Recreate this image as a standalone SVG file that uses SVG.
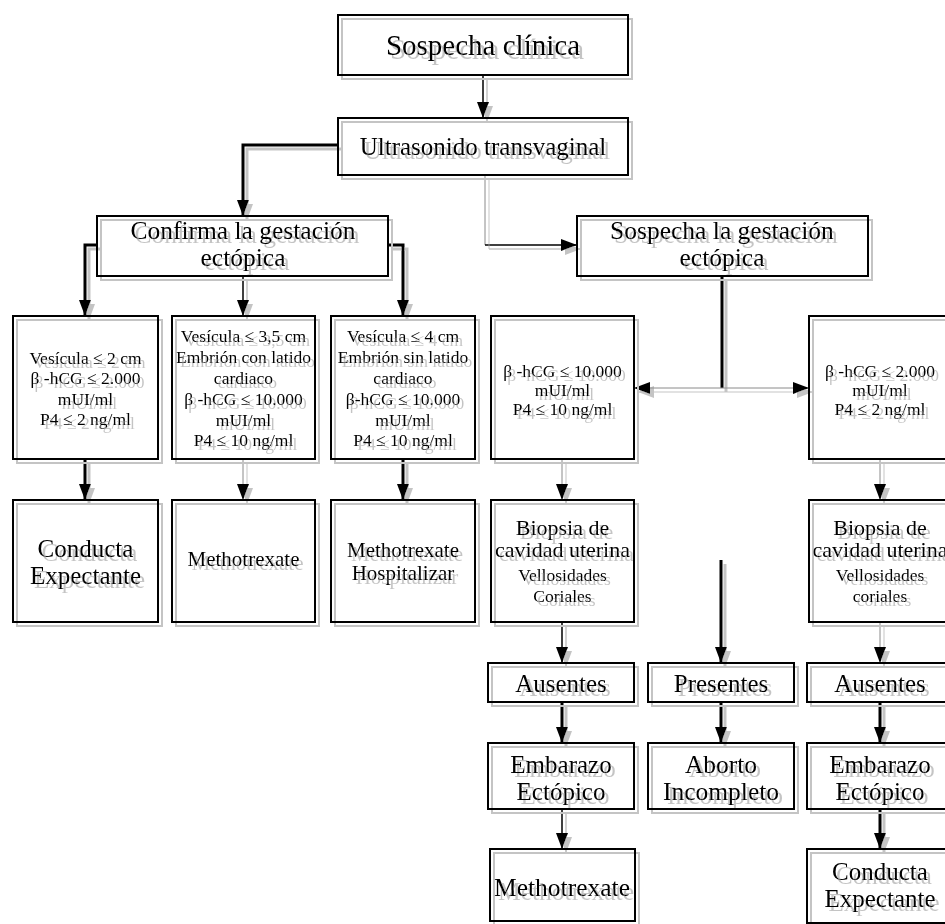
<svg xmlns="http://www.w3.org/2000/svg" width="945" height="924" viewBox="0 0 945 924">
<defs>
<filter id="sh" filterUnits="userSpaceOnUse" x="-20" y="-20" width="1000" height="980">
<feOffset in="SourceAlpha" dx="4" dy="4" result="o"/>
<feFlood flood-color="#c4c4c4"/>
<feComposite in2="o" operator="in" result="s"/>
<feMerge><feMergeNode in="s"/><feMergeNode in="SourceGraphic"/></feMerge>
</filter>
<marker id="ah" markerUnits="userSpaceOnUse" markerWidth="16" markerHeight="12" refX="16" refY="6" orient="auto">
<path d="M0,0 L16,6 L0,12 z" fill="#000"/>
</marker>
<style>
.box{fill:none;stroke:#000;stroke-width:2}
text{font-family:"Liberation Serif","Times New Roman",serif;fill:#000;text-anchor:middle}
.f29{font-size:29px}.f25{font-size:25px}.f26{font-size:25.5px}.f21{font-size:21px}.f22{font-size:22px}.f18{font-size:17.5px}
.ck{fill:none;stroke:#000;stroke-width:3}
.cm{fill:none;stroke:#000;stroke-width:1.5}
.cl{fill:none;stroke:#8a8a8a;stroke-width:1}
.arr{marker-end:url(#ah)}
</style>
</defs>
<rect width="945" height="924" fill="#fff"/>

<g id="connectors" filter="url(#sh)">
<path class="cm arr" d="M483,75 V118"/>
<path class="ck arr" d="M338,145 H243 V216"/>
<path class="cl" d="M485,175 V245"/>
<path class="cm arr" d="M485,245 H577"/>
<path class="ck arr" d="M97,245 H85 V316"/>
<path class="cm arr" d="M243,276 V316"/>
<path class="ck arr" d="M388,245 H403 V316"/>
<path class="ck" d="M722,276 V388"/>
<path class="cl arr" d="M722,388 H634"/>
<path class="cl arr" d="M722,388 H809"/>
<path class="ck arr" d="M85,459 V500"/>
<path class="cl arr" d="M243,459 V500"/>
<path class="ck arr" d="M403,459 V500"/>
<path class="cl arr" d="M562,459 V500"/>
<path class="cl arr" d="M880,459 V500"/>
<path class="cm arr" d="M562,622 V663"/>
<path class="ck arr" d="M721,560 V663"/>
<path class="cl arr" d="M880,622 V663"/>
<path class="ck arr" d="M562,702 V743"/>
<path class="ck arr" d="M721,702 V743"/>
<path class="ck arr" d="M880,702 V743"/>
<path class="cm arr" d="M562,809 V849"/>
<path class="ck arr" d="M880,809 V849"/>
</g>

<g id="n-sospecha-clinica" filter="url(#sh)">
<rect class="box" x="338" y="15" width="290" height="60"/>
<text class="f29" x="483" y="55">Sospecha clínica</text>
</g>
<g id="n-ultrasonido" filter="url(#sh)">
<rect class="box" x="338" y="118" width="290" height="57"/>
<text class="f25" x="483" y="155">Ultrasonido transvaginal</text>
</g>
<g id="n-confirma" filter="url(#sh)">
<rect class="box" x="97" y="216" width="291" height="60"/>
<text class="f26" x="243" y="239">Confirma la gestación</text>
<text class="f26" x="243" y="266">ectópica</text>
</g>
<g id="n-sospecha-gestacion" filter="url(#sh)">
<rect class="box" x="577" y="216" width="291" height="60"/>
<text class="f26" x="722" y="239">Sospecha la gestación</text>
<text class="f26" x="722" y="266">ectópica</text>
</g>

<g id="n-criterios-1" filter="url(#sh)">
<rect class="box" x="13" y="316" width="145" height="143"/>
<text class="f18" x="85.5" y="364">Vesícula ≤ 2 cm</text>
<text class="f18" x="85.5" y="384">β -hCG ≤ 2.000</text>
<text class="f18" x="85.5" y="405">mUI/ml</text>
<text class="f18" x="85.5" y="425">P4 ≤ 2 ng/ml</text>
</g>
<g id="n-criterios-2" filter="url(#sh)">
<rect class="box" x="172" y="316" width="143" height="143"/>
<text class="f18" x="243.5" y="342">Vesícula ≤ 3,5 cm</text>
<text class="f18" x="243.5" y="363">Embrión con latido</text>
<text class="f18" x="243.5" y="384">cardiaco</text>
<text class="f18" x="243.5" y="405">β -hCG ≤ 10.000</text>
<text class="f18" x="243.5" y="426">mUI/ml</text>
<text class="f18" x="243.5" y="446">P4 ≤ 10 ng/ml</text>
</g>
<g id="n-criterios-3" filter="url(#sh)">
<rect class="box" x="331" y="316" width="144" height="143"/>
<text class="f18" x="403" y="342">Vesícula ≤ 4 cm</text>
<text class="f18" x="403" y="363">Embrión sin latido</text>
<text class="f18" x="403" y="384">cardiaco</text>
<text class="f18" x="403" y="405">β-hCG ≤ 10.000</text>
<text class="f18" x="403" y="426">mUI/ml</text>
<text class="f18" x="403" y="446">P4 ≤ 10 ng/ml</text>
</g>
<g id="n-criterios-4" filter="url(#sh)">
<rect class="box" x="491" y="316" width="143" height="143"/>
<text class="f18" x="562.5" y="377">β -hCG ≤ 10.000</text>
<text class="f18" x="562.5" y="396">mUI/ml</text>
<text class="f18" x="562.5" y="415">P4 ≤ 10 ng/ml</text>
</g>
<g id="n-criterios-5" filter="url(#sh)">
<rect class="box" x="809" y="316" width="143" height="143"/>
<text class="f18" x="880" y="377">β -hCG ≤ 2.000</text>
<text class="f18" x="880" y="396">mUI/ml</text>
<text class="f18" x="880" y="415">P4 ≤ 2 ng/ml</text>
</g>

<g id="n-conducta-1" filter="url(#sh)">
<rect class="box" x="13" y="500" width="145" height="122"/>
<text class="f25" x="85.5" y="557">Conducta</text>
<text class="f25" x="85.5" y="584">Expectante</text>
</g>
<g id="n-methotrexate-1" filter="url(#sh)">
<rect class="box" x="172" y="500" width="143" height="122"/>
<text class="f21" x="243.5" y="566">Methotrexate</text>
</g>
<g id="n-methotrexate-hosp" filter="url(#sh)">
<rect class="box" x="331" y="500" width="144" height="122"/>
<text class="f21" x="403" y="557">Methotrexate</text>
<text class="f21" x="403" y="580">Hospitalizar</text>
</g>
<g id="n-biopsia-1" filter="url(#sh)">
<rect class="box" x="491" y="500" width="143" height="122"/>
<text class="f22" x="562.5" y="535">Biopsia de</text>
<text class="f22" x="562.5" y="557">cavidad uterina</text>
<text class="f18" x="562.5" y="581">Vellosidades</text>
<text class="f18" x="562.5" y="602">Coriales</text>
</g>
<g id="n-biopsia-2" filter="url(#sh)">
<rect class="box" x="809" y="500" width="143" height="122"/>
<text class="f22" x="880" y="535">Biopsia de</text>
<text class="f22" x="880" y="557">cavidad uterina</text>
<text class="f18" x="880" y="581">Vellosidades</text>
<text class="f18" x="880" y="602">coriales</text>
</g>

<g id="n-ausentes-1" filter="url(#sh)">
<rect class="box" x="488" y="663" width="146" height="39"/>
<text class="f25" x="561" y="692">Ausentes</text>
</g>
<g id="n-presentes" filter="url(#sh)">
<rect class="box" x="648" y="663" width="146" height="39"/>
<text class="f25" x="721" y="692">Presentes</text>
</g>
<g id="n-ausentes-2" filter="url(#sh)">
<rect class="box" x="807" y="663" width="146" height="39"/>
<text class="f25" x="880" y="692">Ausentes</text>
</g>

<g id="n-embarazo-1" filter="url(#sh)">
<rect class="box" x="488" y="743" width="146" height="66"/>
<text class="f25" x="561" y="773">Embarazo</text>
<text class="f25" x="561" y="800">Ectópico</text>
</g>
<g id="n-aborto" filter="url(#sh)">
<rect class="box" x="648" y="743" width="146" height="66"/>
<text class="f26" x="721" y="773">Aborto</text>
<text class="f26" x="721" y="800">Incompleto</text>
</g>
<g id="n-embarazo-2" filter="url(#sh)">
<rect class="box" x="807" y="743" width="146" height="66"/>
<text class="f25" x="880" y="773">Embarazo</text>
<text class="f25" x="880" y="800">Ectópico</text>
</g>

<g id="n-methotrexate-2" filter="url(#sh)">
<rect class="box" x="490" y="849" width="145" height="72"/>
<text class="f26" x="562" y="896">Methotrexate</text>
</g>
<g id="n-conducta-2" filter="url(#sh)">
<rect class="box" x="807" y="849" width="146" height="74"/>
<text class="f25" x="880" y="880">Conducta</text>
<text class="f25" x="880" y="907">Expectante</text>
</g>
</svg>
